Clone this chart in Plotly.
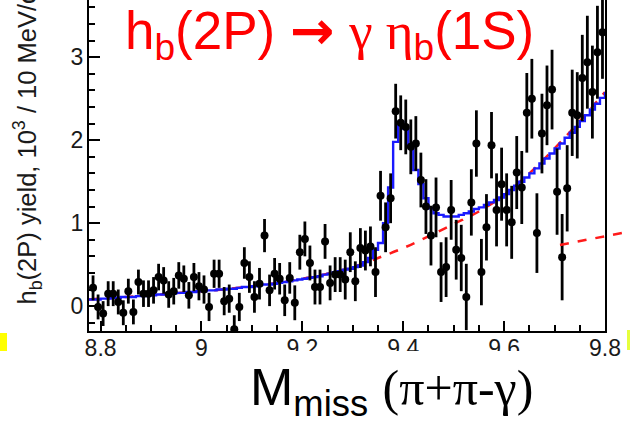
import numpy as np
import plotly.graph_objects as go

# ---------------- data ----------------
# yield per 10 MeV bin, bins start at 8.78 GeV
bin_start = 8.78
bin_width = 0.01
yield_vals = [
    0.22, -0.01, -0.09, 0.15, 0.15, 0.05, -0.08, 0.18, -0.07, 0.29,
    0.15, 0.15, 0.19, 0.35, 0.31, 0.14, 0.18, 0.37, 0.33, 0.13,
    0.35, 0.24, 0.20, -0.01, 0.39, 0.39, 0.06, 0.09, -0.28, -0.01,
    0.52, 0.35, 0.11, 0.27, 0.85, 0.19, 0.39, 0.33, 0.07, 0.34,
    0.04, 0.65, 0.81, 0.52, 0.23, 0.23, 0.78, 0.28, 0.38, 0.38,
    0.32, 0.65, 0.30, 0.70, 0.67, 0.72, 0.41, 1.33, 0.95, 1.30,
    2.35, 2.21, 2.16, 1.92, 1.96, 1.52, 1.20, 0.85, 1.19, 0.41,
    0.47, 1.16, 0.68, 0.58, 0.11, 1.25, 1.96, 0.41, 0.95, 1.94,
    1.16, 1.47, 1.16, 1.01, 1.61, 1.43, 2.33, 2.50, 0.88, 2.08,
    2.42, 2.61, 1.38, 0.59, 1.42, 2.33, 2.30, 2.75, 2.94, 2.58,
    3.06, 3.30,
]
yield_err = [
    0.15, 0.15, 0.15, 0.15, 0.15, 0.15, 0.15, 0.15, 0.15, 0.15,
    0.16, 0.16, 0.16, 0.16, 0.16, 0.16, 0.16, 0.16, 0.16, 0.16,
    0.17, 0.17, 0.17, 0.17, 0.17, 0.17, 0.17, 0.17, 0.17, 0.17,
    0.19, 0.19, 0.19, 0.19, 0.20, 0.19, 0.19, 0.19, 0.19, 0.19,
    0.21, 0.21, 0.21, 0.21, 0.21, 0.21, 0.21, 0.21, 0.21, 0.21,
    0.24, 0.24, 0.24, 0.24, 0.24, 0.24, 0.30, 0.30, 0.30, 0.30,
    0.33, 0.33, 0.33, 0.33, 0.33, 0.33, 0.33, 0.36, 0.36, 0.36,
    0.36, 0.36, 0.36, 0.40, 0.40, 0.40, 0.40, 0.40, 0.40, 0.40,
    0.44, 0.44, 0.44, 0.44, 0.44, 0.44, 0.48, 0.48, 0.48, 0.48,
    0.48, 0.48, 0.52, 0.52, 0.52, 0.52, 0.52, 0.52, 0.56, 0.56,
    0.56, 0.56,
]

# total fit (blue, histogram-like), value per bin starting at 8.77
fit_start = 8.77
fit_vals = [
    0.08, 0.08, 0.08, 0.09, 0.09, 0.10, 0.10, 0.11, 0.11, 0.11,
    0.12, 0.12, 0.13, 0.13, 0.14, 0.14, 0.15, 0.15, 0.16, 0.16,
    0.17, 0.17, 0.18, 0.18, 0.19, 0.19, 0.20, 0.20, 0.21, 0.21,
    0.22, 0.23, 0.23, 0.24, 0.25, 0.26, 0.26, 0.27, 0.28, 0.29,
    0.30, 0.31, 0.32, 0.33, 0.34, 0.35, 0.36, 0.38, 0.39, 0.41,
    0.42, 0.44, 0.45, 0.47, 0.49, 0.53, 0.58, 0.68, 0.76, 1.00,
    1.43, 1.98, 2.22, 2.14, 1.94, 1.64, 1.47, 1.30, 1.18, 1.12,
    1.10, 1.08, 1.08, 1.08, 1.10, 1.12, 1.14, 1.17, 1.19, 1.22,
    1.25, 1.28, 1.31, 1.35, 1.40, 1.45, 1.50, 1.55, 1.60, 1.66,
    1.72, 1.78, 1.84, 1.90, 1.96, 2.03, 2.09, 2.16, 2.23, 2.30,
    2.37, 2.44, 2.51, 2.58,
]

# background (red dashed)
bg_x = [8.776, 8.80, 8.85, 8.90, 8.95, 9.00, 9.05, 9.10, 9.15, 9.20, 9.25,
        9.30, 9.35, 9.40, 9.45, 9.50, 9.55, 9.60, 9.65, 9.70, 9.75, 9.80]
bg_y = [0.08, 0.09, 0.11, 0.13, 0.155, 0.18, 0.205, 0.24, 0.28, 0.33, 0.39,
        0.47, 0.58, 0.70, 0.84, 0.99, 1.14, 1.34, 1.60, 1.90, 2.23, 2.58]

x_tickvals = [8.8, 9.0, 9.2, 9.4, 9.6, 9.8]
x_ticktext = ["8.8", "9", "9.2", "9.4", "9.6", "9.8"]
y_tickvals = [0, 1, 2, 3]
y_ticktext = ["0", "1", "2", "3"]

# ---------------- figure ----------------
W, H = 630, 428
ML, MR, MT, MB = 89, 25, 0, 97
PW, PH = W - ML - MR, H - MT - MB

def px(xp):
    return (xp - ML) / PW

def py(yp):
    return (H - MB - yp) / PH

bin_centers = bin_start + bin_width * (np.arange(len(yield_vals)) + 0.5)
fit_x = fit_start + bin_width * np.arange(len(fit_vals))

fig = go.Figure()
fig.add_trace(go.Scatter(
    x=bg_x, y=bg_y, mode="lines", line=dict(color="#ff1a1a", width=2.5, dash="dash", shape="spline"),
    hoverinfo="skip", showlegend=False))
fig.add_trace(go.Scatter(
    x=fit_x, y=fit_vals, mode="lines", line=dict(color="#1a1aff", width=2.4, shape="hv"),
    hoverinfo="skip", showlegend=False))
fig.add_trace(go.Scatter(
    x=bin_centers, y=yield_vals, mode="markers",
    marker=dict(color="black", size=8),
    error_y=dict(type="data", array=yield_err, color="black", thickness=2.8, width=0),
    showlegend=False, cliponaxis=True))

axis_font = dict(family="Liberation Sans, Arial, sans-serif", size=23, color="#1a1a1a")
fig.update_xaxes(
    range=[8.777, 9.8], tickvals=x_tickvals, ticktext=x_ticktext,
    ticks="inside", ticklen=10, tickwidth=2, tickcolor="black",
    minor=dict(dtick=0.05, tick0=8.8, ticks="inside", ticklen=6, tickwidth=2, tickcolor="black"),
    showline=True, linecolor="black", linewidth=2, mirror=False,
    showgrid=False, zeroline=False, tickfont=axis_font, ticklabelstandoff=-5)
fig.update_yaxes(
    range=[-0.30, 3.69], tickvals=y_tickvals, ticktext=y_ticktext,
    ticks="inside", ticklen=11, tickwidth=2, tickcolor="black",
    minor=dict(dtick=0.2, tick0=0, ticks="inside", ticklen=6, tickwidth=2, tickcolor="black"),
    showline=True, linecolor="black", linewidth=2, mirror=True,
    showgrid=False, zeroline=False, tickfont=axis_font, ticklabelstandoff=-1)

shapes = [
    # white box of the slide title covering part of the tick labels
    dict(type="rect", xref="paper", yref="paper", x0=px(238), x1=px(560), y0=py(428), y1=py(351),
         fillcolor="white", line=dict(width=0), layer="above"),
    # slide decorations
    dict(type="rect", xref="paper", yref="paper", x0=px(0), x1=px(7), y0=py(351), y1=py(333),
         fillcolor="#ffff00", line=dict(width=0), layer="above"),
    dict(type="rect", xref="paper", yref="paper", x0=px(627), x1=px(630), y0=py(350), y1=py(330),
         fillcolor="#e6ff3c", line=dict(width=0), layer="above"),
    dict(type="line", xref="paper", yref="paper", x0=px(560), y0=py(245), x1=px(632), y1=py(231),
         line=dict(color="#ff1a1a", width=2.5, dash="dash"), layer="above"),
]

serif = "Liberation Serif, Times New Roman, serif"
annotations = [
    dict(text=("h<sub>b</sub>(2P) <b><span style='font-family:DejaVu Sans'>→</span></b> "
               "<span style='font-family:%s'>γ η</span><sub>b</sub>(1S)") % serif,
         xref="paper", yref="paper", x=px(123), y=py(-2), xanchor="left", yanchor="top",
         showarrow=False, font=dict(family="Liberation Sans, Arial, sans-serif", size=53, color="#ff0000")),
    dict(text="h<sub>b</sub>(2P) yield, 10<sup>3</sup> / 10 MeV/c<sup>2</sup>",
         xref="paper", yref="paper", x=px(27), y=py(307), xanchor="center", yanchor="bottom",
         textangle=-90, showarrow=False,
         font=dict(family="Liberation Sans, Arial, sans-serif", size=25.5, color="#1a1a1a")),
    dict(text=("M<sub>miss</sub> <span style='font-family:%s;font-size:50px'>(π+π-γ)</span>") % serif,
         xref="paper", yref="paper", x=px(248), y=py(356), xanchor="left", yanchor="top",
         showarrow=False, font=dict(family="Liberation Sans, Arial, sans-serif", size=52, color="#000000")),
]

fig.update_layout(
    width=W, height=H, margin=dict(l=ML, r=MR, t=MT, b=MB, pad=0),
    paper_bgcolor="white", plot_bgcolor="white",
    shapes=shapes, annotations=annotations, showlegend=False)

fig.write_html("out.html")
